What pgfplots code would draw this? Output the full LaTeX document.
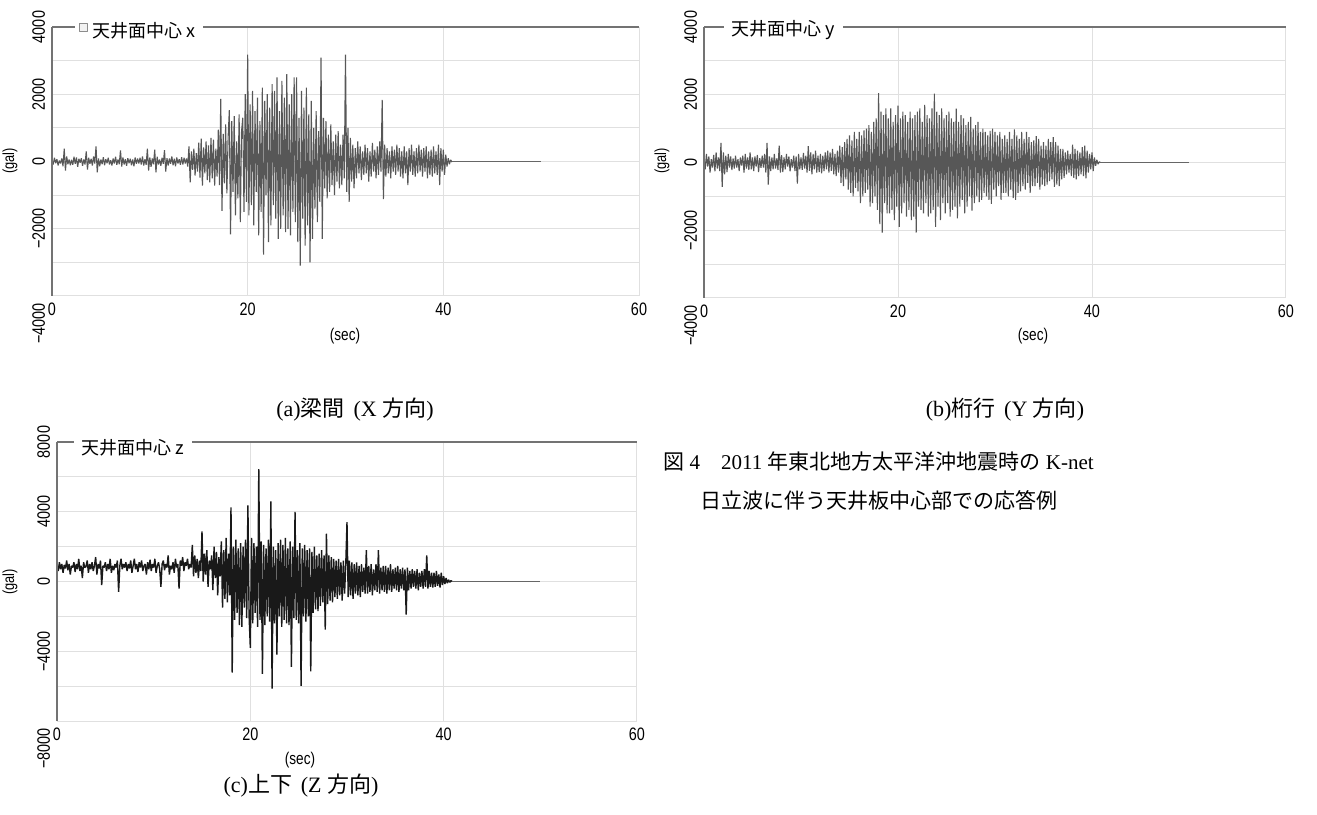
\documentclass[border=0pt]{standalone}
\usepackage{fontspec}
\setmainfont{Liberation Serif}
\newfontfamily\cjk{Noto Sans CJK JP}
\newfontfamily\narrow[FakeStretch=0.8]{Liberation Sans}
\usepackage{pgfplots}
\usepackage{pgfplotstable}
\pgfplotsset{compat=1.18}

% panel (a): x direction, samples every 0.125 s
\pgfplotstableread[row sep=\\]{
y\\
40\\ -90\\ 110\\ -50\\ 70\\ -120\\ 30\\ -60\\
90\\ -140\\ 380\\ -270\\ 150\\ -80\\ 60\\ -110\\
50\\ -100\\ 140\\ -70\\ 120\\ -160\\ 80\\ -40\\
100\\ -130\\ 60\\ -90\\ 300\\ -240\\ 110\\ -70\\
80\\ -120\\ 150\\ -60\\ 450\\ -320\\ 90\\ -140\\
60\\ -80\\ 130\\ -110\\ 70\\ -50\\ 110\\ -90\\
40\\ -120\\ 90\\ -60\\ 140\\ -100\\ 60\\ -80\\
330\\ -150\\ 120\\ -90\\ 70\\ -130\\ 100\\ -50\\
80\\ -110\\ 60\\ -140\\ 120\\ -70\\ 90\\ -60\\
110\\ -90\\ 150\\ -120\\ 70\\ -100\\ 380\\ -270\\
120\\ -160\\ 90\\ -80\\ 350\\ -320\\ 140\\ -90\\
60\\ -130\\ 110\\ -70\\ 340\\ -300\\ 100\\ -120\\
90\\ -70\\ 150\\ -110\\ 80\\ -140\\ 120\\ -60\\
70\\ -100\\ 130\\ -90\\ 110\\ -60\\ 90\\ -150\\
450\\ -620\\ 300\\ -250\\ 380\\ -420\\ 250\\ -300\\
560\\ -480\\ 680\\ -720\\ 420\\ -350\\ 600\\ -550\\
480\\ -620\\ 700\\ -500\\ 650\\ -720\\ 380\\ -450\\
950\\ -700\\ 1860\\ -1470\\ 820\\ -650\\ 1100\\ -950\\
700\\ 1530\\ -2170\\ 1200\\ -900\\ 1350\\ -1600\\ 600\\
-1100\\ 1400\\ -1800\\ 900\\ 1300\\ -1500\\ 2000\\ -1200\\
3180\\ -1600\\ 1700\\ -1300\\ 2100\\ -1900\\ 1500\\ -900\\
1900\\ -2200\\ 1200\\ -1500\\ 2200\\ -2770\\ 1800\\ -1000\\
2000\\ -2400\\ 1600\\ -1900\\ 2300\\ -1300\\ 2100\\ -1700\\
2500\\ -2300\\ 1500\\ -2000\\ 2400\\ -1600\\ 1900\\ -2100\\
2600\\ -2000\\ 1700\\ -2200\\ 2000\\ -1500\\ 2500\\ -1800\\
2500\\ -2400\\ 1300\\ -3100\\ 2100\\ -1700\\ 1600\\ -2500\\
2200\\ -1900\\ 1400\\ -3000\\ 1800\\ -2300\\ 1000\\ -1400\\
1500\\ -1800\\ 900\\ -1200\\ 3090\\ -2300\\ 1300\\ -800\\
1200\\ -1100\\ 800\\ -900\\ 1100\\ -700\\ 600\\ -1000\\
800\\ -600\\ 900\\ -800\\ 500\\ -700\\ 800\\ -500\\
3180\\ -900\\ 1000\\ -1200\\ 700\\ -600\\ 500\\ -800\\
400\\ -500\\ 600\\ -350\\ 450\\ -550\\ 300\\ -400\\
500\\ -350\\ 400\\ -600\\ 300\\ -450\\ 550\\ -300\\
350\\ -500\\ 450\\ -400\\ 600\\ -300\\ 1830\\ -1120\\
500\\ -450\\ 400\\ -350\\ 300\\ -500\\ 450\\ -300\\
350\\ -400\\ 500\\ -300\\ 400\\ -450\\ 300\\ -500\\
450\\ -350\\ 300\\ -700\\ 400\\ -300\\ 500\\ -400\\
300\\ -450\\ 400\\ -350\\ 500\\ -300\\ 350\\ -450\\
400\\ -300\\ 450\\ -500\\ 300\\ -400\\ 350\\ -450\\
450\\ -350\\ 300\\ -400\\ 500\\ -700\\ 400\\ -300\\
350\\ -400\\ 200\\ -150\\ 100\\ -80\\ 50\\ -20\\
}\dataA

% panel (b): y direction
\pgfplotstableread[row sep=\\]{
y\\
150\\ -200\\ 250\\ -120\\ 180\\ -300\\ 100\\ -150\\
220\\ -260\\ 300\\ -180\\ 150\\ -250\\ 580\\ -720\\
300\\ -350\\ 200\\ -280\\ 250\\ -150\\ 180\\ -220\\
120\\ -180\\ 200\\ -150\\ 100\\ -250\\ 150\\ -90\\
200\\ -300\\ 250\\ -180\\ 150\\ -220\\ 300\\ -200\\
150\\ -250\\ 180\\ -120\\ 220\\ -280\\ 130\\ -160\\
200\\ -150\\ 250\\ -300\\ 580\\ -650\\ 180\\ -250\\
150\\ -200\\ 250\\ -180\\ 120\\ -220\\ 500\\ -300\\
220\\ -280\\ 150\\ -200\\ 250\\ -120\\ 180\\ -260\\
100\\ -150\\ 200\\ -250\\ 180\\ -620\\ 250\\ -200\\
150\\ -220\\ 280\\ -180\\ 200\\ -300\\ 480\\ -250\\
300\\ -350\\ 250\\ -200\\ 350\\ -300\\ 200\\ -280\\
250\\ -320\\ 200\\ -250\\ 300\\ -200\\ 350\\ -300\\
300\\ -250\\ 400\\ -350\\ 250\\ -400\\ 350\\ -300\\
500\\ -600\\ 450\\ -700\\ 600\\ -500\\ 700\\ -800\\
800\\ -900\\ 650\\ -1000\\ 900\\ -750\\ 700\\ -850\\
900\\ -1200\\ 800\\ -1000\\ 950\\ -900\\ 1000\\ -800\\
1100\\ -1300\\ 900\\ -1200\\ 1200\\ -1000\\ 1300\\ -1400\\
2050\\ -1820\\ 1500\\ -2070\\ 1400\\ -1200\\ 1600\\ -1500\\
1300\\ -1500\\ 1600\\ -1400\\ 1200\\ -1700\\ 1400\\ -1300\\
1680\\ -1900\\ 1300\\ -1500\\ 1500\\ -1200\\ 1400\\ -1600\\
1200\\ -1400\\ 1500\\ -1700\\ 1300\\ -1600\\ 1400\\ -2070\\
1500\\ -1300\\ 1600\\ -1400\\ 1200\\ -1500\\ 1700\\ -1200\\
1400\\ -1600\\ 1300\\ -1500\\ 1600\\ -1400\\ 2030\\ -1900\\
1500\\ -1300\\ 1400\\ -1700\\ 1600\\ -1200\\ 1300\\ -1500\\
1400\\ -1200\\ 1500\\ -1600\\ 1300\\ -1400\\ 1200\\ -1300\\
1590\\ -1650\\ 1200\\ -1300\\ 1400\\ -1100\\ 1300\\ -1500\\
1100\\ -1300\\ 1200\\ -1000\\ 1350\\ -1420\\ 1000\\ -1200\\
1100\\ -1000\\ 1200\\ -1170\\ 900\\ -1100\\ 1000\\ -900\\
900\\ -1000\\ 800\\ -1100\\ 930\\ -1220\\ 1000\\ -800\\
900\\ -1000\\ 800\\ -700\\ 900\\ -1100\\ 700\\ -900\\
800\\ -900\\ 700\\ -1000\\ 900\\ -800\\ 700\\ -1050\\
980\\ -1100\\ 800\\ -900\\ 700\\ -850\\ 900\\ -700\\
700\\ -800\\ 900\\ -600\\ 750\\ -900\\ 600\\ -700\\
650\\ -700\\ 780\\ -600\\ 700\\ -800\\ 500\\ -650\\
600\\ -700\\ 500\\ -650\\ 700\\ -550\\ 600\\ -500\\
750\\ -720\\ 600\\ -650\\ 500\\ -700\\ 400\\ -500\\
400\\ -450\\ 300\\ -350\\ 350\\ -300\\ 250\\ -400\\
530\\ -450\\ 400\\ -500\\ 350\\ -400\\ 300\\ -350\\
450\\ -400\\ 500\\ -470\\ 350\\ -300\\ 250\\ -200\\
300\\ -250\\ 150\\ -100\\ 80\\ -50\\ 20\\ 0\\
}\dataB

% panel (c): z direction
\pgfplotstableread[row sep=\\]{
y\\
900\\ 600\\ 1100\\ 700\\ 1000\\ 500\\ 950\\ 750\\
1200\\ 650\\ 1000\\ 400\\ 900\\ 800\\ 1100\\ 550\\
1000\\ 700\\ 1300\\ 600\\ 900\\ 200\\ 1100\\ 800\\
850\\ 1200\\ 500\\ 1000\\ 700\\ 1100\\ 600\\ 900\\
1400\\ 400\\ 1000\\ 750\\ 1200\\ -200\\ 900\\ 800\\
1100\\ 600\\ 1000\\ 700\\ 1300\\ 500\\ 900\\ 650\\
1000\\ 800\\ 1200\\ -600\\ 900\\ 1300\\ 700\\ 1000\\
800\\ 1100\\ 600\\ 1000\\ 750\\ 1200\\ 500\\ 900\\
1300\\ 700\\ 1000\\ 550\\ 1100\\ 800\\ 1200\\ 600\\
900\\ 1000\\ 400\\ 1100\\ 700\\ 1250\\ 600\\ 1000\\
800\\ 1300\\ 500\\ 900\\ 1100\\ 700\\ -300\\ 1000\\
1200\\ 650\\ 1000\\ 800\\ 1500\\ 400\\ 900\\ 700\\
1100\\ 500\\ 1300\\ 800\\ 1000\\ -400\\ 1200\\ 900\\
1400\\ 600\\ 1100\\ 900\\ 1300\\ 700\\ 1000\\ 800\\
2100\\ 300\\ 1500\\ 500\\ 1300\\ 200\\ 1200\\ 600\\
2880\\ 0\\ 1600\\ 400\\ 1800\\ -300\\ 1200\\ 700\\
1500\\ -500\\ 2000\\ 200\\ 1700\\ -800\\ 1400\\ 300\\
2300\\ -1500\\ 1800\\ -1000\\ 2500\\ -1200\\ 1600\\ -800\\
4250\\ -5230\\ 2000\\ -2200\\ 2400\\ -1800\\ 1900\\ -2500\\
2200\\ -2600\\ 2000\\ -1500\\ 2400\\ -2100\\ 4370\\ -2000\\
-3800\\ 2500\\ -2400\\ 2200\\ -1800\\ 2000\\ -2600\\ 6440\\
-2200\\ 2300\\ -5300\\ 2100\\ -2500\\ 1900\\ -2000\\ 2400\\
-2300\\ 4600\\ -6150\\ 2000\\ -2400\\ 1800\\ -4200\\ 2200\\
-2000\\ 2400\\ -2600\\ 2100\\ -2200\\ 2500\\ -2400\\ 1900\\
-2500\\ 2300\\ -4900\\ 2000\\ -2100\\ 3990\\ -2200\\ 1800\\
-2400\\ 2200\\ -5980\\ 1900\\ -2000\\ 2100\\ -2300\\ 1800\\
-2000\\ 1900\\ -5150\\ 1700\\ -1800\\ 2000\\ -1600\\ 1500\\
-1700\\ 1600\\ -1400\\ 1800\\ -1200\\ 1500\\ -2760\\ 2750\\
-1300\\ 1500\\ -1100\\ 1400\\ -1200\\ 1300\\ -900\\ 1200\\
-1000\\ 1300\\ -800\\ 1100\\ -1100\\ 1200\\ -700\\ 1000\\
3400\\ -900\\ 1200\\ -800\\ 1100\\ -1000\\ 1000\\ -700\\
1100\\ -800\\ 900\\ -900\\ 1000\\ -600\\ 800\\ -700\\
1800\\ -700\\ 900\\ -600\\ 1000\\ -800\\ 700\\ -500\\
1000\\ -600\\ 1800\\ -700\\ 800\\ -500\\ 900\\ -600\\
900\\ -700\\ 800\\ -500\\ 1000\\ -600\\ 700\\ -400\\
800\\ -500\\ 900\\ -600\\ 700\\ -400\\ 800\\ -500\\
700\\ -1900\\ 800\\ -500\\ 600\\ -400\\ 700\\ -300\\
600\\ -400\\ 700\\ -500\\ 500\\ -300\\ 600\\ -400\\
700\\ -300\\ 1500\\ -400\\ 600\\ -300\\ 500\\ -350\\
500\\ -300\\ 600\\ -250\\ 400\\ -350\\ 500\\ -200\\
300\\ -150\\ 200\\ -100\\ 100\\ -50\\ 50\\ 0\\
}\dataC

\pgfplotsset{
  seis/.style={
    scale only axis, clip=false,
    axis line style={draw=none},
    xmin=0, xmax=60, xtick={0,20,40,60}, xticklabels={0,20,40,60},
    tick style={draw=none},
    grid=both,
    major grid style={black!12, line width=0.5pt},
    minor grid style={black!12, line width=0.5pt},
    ticklabel style={font=\narrow\fontsize{9}{9}\selectfont},
    yticklabel style={rotate=90, anchor=south, inner sep=0pt, outer sep=3.5pt},
    xticklabel style={anchor=north, inner sep=0pt, outer sep=3.5pt},
    extra y tick style={yticklabel style={anchor=south east}},
    legend style={draw=none, fill=white, font=\cjk\fontsize{9}{10}\selectfont,
      inner xsep=2pt, inner ysep=1pt, legend cell align=left},
  },
  sig/.style={black!66, line width=0.55pt, line join=bevel},
}

\begin{document}
\begin{tikzpicture}
\path[use as bounding box] (0pt,0pt) rectangle (658.5pt,407pt);

% ---------- (a) ----------
\begin{axis}[seis, at={(26pt,259pt)}, anchor=south west,
  width=293.5pt, height=134.5pt,
  ymin=-4000, ymax=4000,
  ytick={-2000,0,2000,4000}, yticklabels={−2000,0,2000,4000},
  extra y ticks={-4000}, extra y tick labels={−4000},
  minor ytick={-3000,-1000,1000,3000},
  legend style={at={(0.039,1)}, anchor=west, yshift=-2pt},
  legend image code/.code={\draw[black!45, fill=black!5, line width=0.4pt] (0pt,0pt) rectangle (4pt,4pt);},
]
\addplot[sig] table[x expr=\coordindex*0.125, y=y] {\dataA};
\addlegendentry{天井面中心 x}
\addplot[black!60, line width=0.5pt, forget plot] coordinates {(40.875,0) (50,0)};
\draw[black!55, line width=1.2pt] (axis cs:0,-4000) -- (axis cs:0,4000);
\draw[black!55, line width=0.7pt] (axis cs:0,4000) -- (axis cs:60,4000);
\end{axis}

% ---------- (b) ----------
\begin{axis}[seis, at={(352pt,258pt)}, anchor=south west,
  width=291pt, height=135.5pt,
  ymin=-4000, ymax=4000,
  ytick={-2000,0,2000,4000}, yticklabels={−2000,0,2000,4000},
  extra y ticks={-4000}, extra y tick labels={−4000},
  minor ytick={-3000,-1000,1000,3000},
  legend style={at={(0.033,1)}, anchor=west, yshift=-1pt},
  legend image code/.code={},
]
\addplot[sig] table[x expr=\coordindex*0.125, y=y] {\dataB};
\addlegendentry{天井面中心 y}
\addplot[black!60, line width=0.5pt, forget plot] coordinates {(40.875,0) (50,0)};
\draw[black!55, line width=1.2pt] (axis cs:0,-4000) -- (axis cs:0,4000);
\draw[black!55, line width=0.7pt] (axis cs:0,4000) -- (axis cs:60,4000);
\end{axis}

% ---------- (c) ----------
\begin{axis}[seis, at={(28.5pt,46.5pt)}, anchor=south west,
  width=290pt, height=139.5pt,
  ymin=-8000, ymax=8000,
  ytick={-4000,0,4000,8000}, yticklabels={−4000,0,4000,8000},
  extra y ticks={-8000}, extra y tick labels={−8000},
  minor ytick={-6000,-2000,2000,6000},
  legend style={at={(0.028,1)}, anchor=west, yshift=-3pt},
  legend image code/.code={},
]
\addplot[sig, black!90, line width=0.7pt] table[x expr=\coordindex*0.125, y=y] {\dataC};
\addlegendentry{天井面中心 z}
\addplot[black!60, line width=0.5pt, forget plot] coordinates {(40.875,0) (50,0)};
\draw[black!55, line width=1.2pt] (axis cs:0,-8000) -- (axis cs:0,8000);
\draw[black!55, line width=0.7pt] (axis cs:0,8000) -- (axis cs:60,8000);
\end{axis}

% axis titles
\node[rotate=90, font=\narrow\fontsize{8}{8}\selectfont] at (5pt,326.5pt) {(gal)};
\node[rotate=90, font=\narrow\fontsize{8}{8}\selectfont] at (331pt,326.5pt) {(gal)};
\node[rotate=90, font=\narrow\fontsize{8}{8}\selectfont] at (5pt,116pt) {(gal)};
\node[font=\narrow\fontsize{8.5}{8.5}\selectfont] at (172.5pt,239pt) {(sec)};
\node[font=\narrow\fontsize{8.5}{8.5}\selectfont] at (516.5pt,239pt) {(sec)};
\node[font=\narrow\fontsize{8.5}{8.5}\selectfont] at (150pt,27pt) {(sec)};

% sub-captions
\node[font=\fontsize{11}{12}\selectfont] at (177.5pt,202pt) {(a){\cjk 梁間}\hspace{0.4em}(X {\cjk 方向})};
\node[font=\fontsize{11}{12}\selectfont] at (502.5pt,202pt) {(b){\cjk 桁行}\hspace{0.4em}(Y {\cjk 方向})};
\node[font=\fontsize{11}{12}\selectfont] at (150.5pt,14pt) {(c){\cjk 上下}\hspace{0.4em}(Z {\cjk 方向})};

% figure caption
\node[anchor=west, font=\fontsize{10.5}{12}\selectfont, inner sep=0pt] at (331.5pt,176pt)
  {{\cjk 図}~4\hspace{1em}2011~{\cjk 年東北地方太平洋沖地震時の}~K-net};
\node[anchor=west, font=\fontsize{10.5}{12}\selectfont, inner sep=0pt] at (350pt,157pt)
  {{\cjk 日立波に伴う天井板中心部での応答例}};
\end{tikzpicture}
\end{document}
